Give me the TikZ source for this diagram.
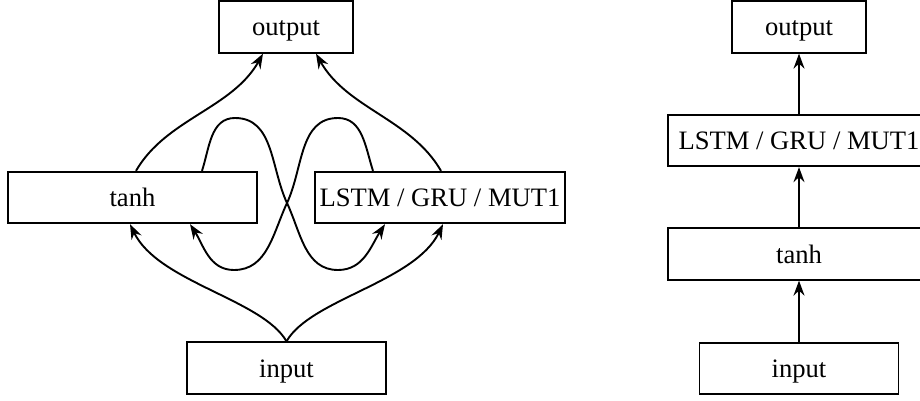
\documentclass[tikz,border=0pt]{standalone}
\usepackage{fontspec}
\setmainfont{Liberation Serif}
\usetikzlibrary{arrows.meta}
\tikzset{
  box/.style={draw, line width=1.8pt, inner sep=0pt, minimum height=51.5pt,
    text height=18pt, text depth=0pt, font=\fontsize{26.6}{30}\selectfont},
  conn/.style={line width=1.9pt, -{Stealth[length=15pt,width=11pt,inset=5pt]}}
}
\begin{document}
\begin{tikzpicture}[x=1pt,y=1pt]
\useasboundingbox (0,0) rectangle (920,-401);
% left diagram
\node[box, minimum width=134pt] (outL) at (286,-27) {output};
\node[box, minimum width=249pt] (tanhL) at (132.5,-197.5) {tanh};
\node[box, minimum width=250pt] (lstmL) at (440,-197.5) {LSTM / GRU / MUT1};
\node[box, minimum width=199pt] (inL) at (286.5,-368) {input};
\coordinate (pkA) at (235,-118);
\coordinate (pkB) at (338,-118);
\coordinate (cross) at (287,-203);
\coordinate (btA) at (234,-270);
\coordinate (btB) at (338,-270);
% tanh -> output
\draw[conn] ([xshift=3.5pt]tanhL.north) .. controls +(30,52) and +(-31,-55) .. ([xshift=-23pt]outL.south);
% lstm -> output
\draw[conn] ([xshift=1pt]lstmL.north) .. controls +(-30,52) and +(31,-55) .. ([xshift=30pt]outL.south);
% input -> tanh / lstm
\draw[conn] (inL.north) .. controls +(-24,42) and +(28,-58) .. ([xshift=-2.5pt]tanhL.south);
\draw[conn] (inL.north) .. controls +(24,42) and +(-28,-58) .. ([xshift=3pt]lstmL.south);
% tanh -> lstm (loop)
\draw[conn] ([xshift=69.5pt]tanhL.north) to[out=72,in=180] (pkA) to[out=0,in=115] (cross)
  to[out=-65,in=180] (btB) to[out=0,in=-123] ([xshift=-55pt]lstmL.south);
% lstm -> tanh (loop)
\draw[conn] ([xshift=-67pt]lstmL.north) to[out=108,in=0] (pkB) to[out=180,in=65] (cross)
  to[out=-115,in=0] (btA) to[out=180,in=-57] ([xshift=57.5pt]tanhL.south);
% right diagram
\node[box, minimum width=134pt] (outR) at (799,-27) {output};
\node[box, minimum width=262pt] (lstmR) at (799,-140.5) {LSTM / GRU / MUT1};
\node[box, minimum width=262pt] (tanhR) at (799,-254) {tanh};
\node[box, minimum width=199pt] (inR) at (799,-368.5) {input};
\draw[conn] (inR.north) -- (tanhR.south);
\draw[conn] (tanhR.north) -- (lstmR.south);
\draw[conn] (lstmR.north) -- (outR.south);
\end{tikzpicture}
\end{document}
